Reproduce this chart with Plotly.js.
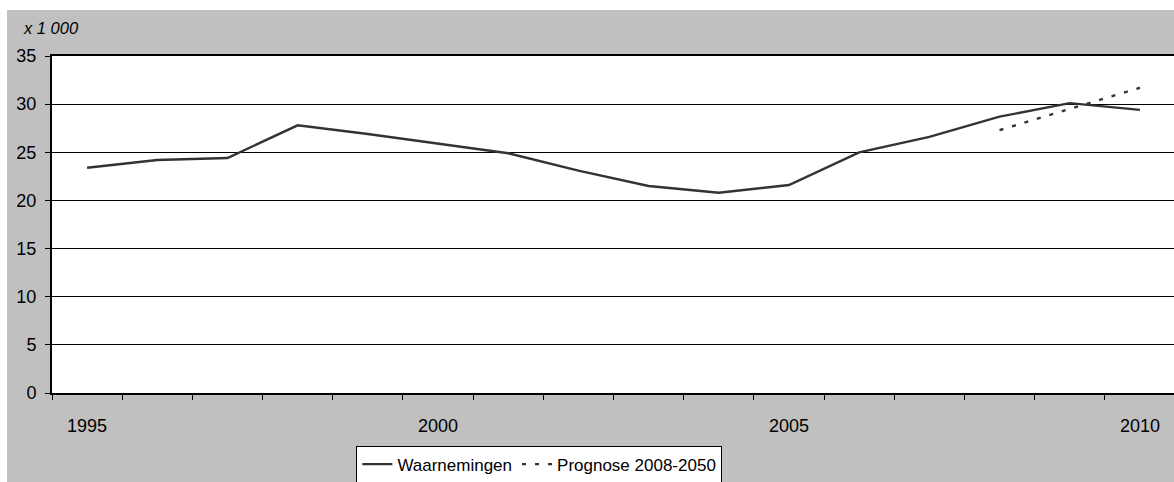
<!DOCTYPE html>
<html>
<head>
<meta charset="utf-8">
<script src="https://cdn.plot.ly/plotly-3.0.1.min.js"></script>
<style>
html, body { margin: 0; padding: 0; background: #ffffff; overflow: hidden; width: 1174px; height: 482px; }
#chart { position: absolute; left: 7px; top: 10px; width: 1170px; height: 490px; }
</style>
</head>
<body>
<div id="chart"></div>
<script>
const years = ['1995','1996','1997','1998','1999','2000','2001','2002','2003','2004','2005','2006','2007','2008','2009','2010'];
const waarnemingen = [23.4, 24.2, 24.4, 27.8, 26.9, 25.9, 24.9, 23.1, 21.5, 20.8, 21.6, 25.0, 26.6, 28.7, 30.1, 29.4];
const prognoseYears = ['2008','2009','2010'];
const prognose = [27.3, 29.5, 31.7];
const tickLabels = ['1995','','','','','2000','','','','','2005','','','','','2010'];
const yTicks = [0, 5, 10, 15, 20, 25, 30, 35];

const FONT = 'Liberation Sans, Arial, sans-serif';

const traces = [
  {
    x: years, y: waarnemingen, type: 'scatter', mode: 'lines',
    name: 'Waarnemingen',
    line: { color: '#333333', width: 2.4 }
  },
  {
    x: prognoseYears, y: prognose, type: 'scatter', mode: 'lines',
    name: 'Prognose 2008-2050',
    line: { color: '#333333', width: 2.4, dash: '4px,9px' }
  }
];

const layout = {
  width: 1170, height: 490,
  margin: { l: 45, r: 2, t: 46, b: 107, autoexpand: false },
  paper_bgcolor: '#c0c0c0',
  plot_bgcolor: '#ffffff',
  font: { family: FONT, size: 18, color: '#000000' },
  showlegend: true,
  legend: {
    orientation: 'h',
    x: 0.434, xanchor: 'center',
    y: -0.156, yanchor: 'top',
    bgcolor: '#ffffff', bordercolor: '#000000', borderwidth: 1,
    font: { family: FONT, size: 17, color: '#000000' },
    itemwidth: 30, tracegroupgap: 0
  },
  xaxis: {
    type: 'category',
    categoryorder: 'array', categoryarray: years,
    range: [-0.5, 15.5],
    tickmode: 'array', tickvals: years, ticktext: tickLabels,
    tickson: 'boundaries',
    ticks: 'outside', ticklen: 5, tickwidth: 1, tickcolor: '#000000',
    showgrid: false, zeroline: false,
    showline: true, linecolor: '#000000', linewidth: 2, mirror: true,
    ticklabelstandoff: 15,
    automargin: false,
    tickfont: { family: FONT, size: 18, color: '#000000' },
    fixedrange: true
  },
  yaxis: {
    range: [0, 35],
    tickmode: 'array', tickvals: yTicks,
    ticks: 'outside', ticklen: 5, tickwidth: 1, tickcolor: '#000000',
    showgrid: true, gridcolor: '#000000', gridwidth: 1,
    zeroline: false,
    showline: true, linecolor: '#000000', linewidth: 2,
    ticklabelstandoff: 5,
    automargin: false,
    tickfont: { family: FONT, size: 18, color: '#000000' },
    fixedrange: true
  },
  annotations: [
    {
      text: 'x 1 000', xref: 'paper', yref: 'paper',
      x: -0.028, xanchor: 'left', y: 1.083, yanchor: 'middle',
      showarrow: false,
      font: { family: FONT, size: 16.5, color: '#000000', style: 'italic' }
    }
  ]
};

Plotly.newPlot('chart', traces, layout, { displayModeBar: false, staticPlot: true });
</script>
</body>
</html>
